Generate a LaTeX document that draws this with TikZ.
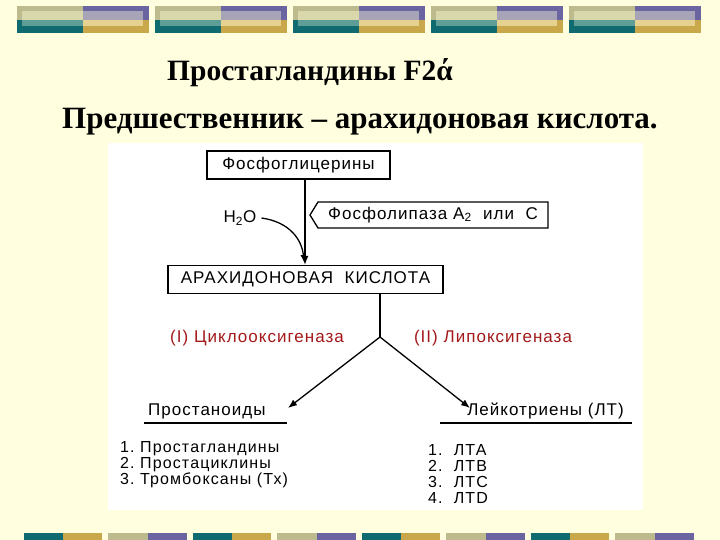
\documentclass[tikz,border=0pt]{standalone}
\usepackage{fontspec}
\setmainfont{Liberation Serif}
\newfontfamily\dsans[LetterSpace=6]{Liberation Sans}
\newfontfamily\dsanst[LetterSpace=7]{Liberation Sans}
\begin{document}
\begin{tikzpicture}[x=1pt,y=-1pt,
  txt/.style={font=\dsans\fontsize{17}{19}\selectfont,inner sep=0pt},
  lst/.style={font=\dsanst\fontsize{16}{16}\selectfont,inner sep=0pt},
  bx/.style={draw,line width=1.3pt,txt,minimum height=28pt},
  red/.style={txt,text=red!60!black!90},
  arr/.style={line width=1.3pt,-{Latex[length=9pt,width=7pt]}}]
\usetikzlibrary{arrows.meta}
\definecolor{bg}{HTML}{FFFFE0}
\definecolor{khaki}{HTML}{BDBB8E}
\definecolor{khl}{HTML}{D9D7AC}
\definecolor{pur}{HTML}{6A64A0}
\definecolor{purl}{HTML}{A8A4B8}
\definecolor{teal}{HTML}{0F6B70}
\definecolor{tealm}{HTML}{5E9E96}
\definecolor{gold}{HTML}{C8A84A}
\definecolor{goldl}{HTML}{E5D290}
\useasboundingbox (0,0) rectangle (720,540);
\fill[bg] (0,0) rectangle (720,540);
% top bars
\foreach \g in {0,1,2,3,4}{
  \begin{scope}[xshift=\g*138]
  \fill[khaki] (17,6) rectangle (83,20);
  \fill[khl] (22,11) rectangle (83,20);
  \fill[teal] (17,20) rectangle (83,33);
  \fill[tealm] (22,20) rectangle (83,26);
  \fill[pur] (83,6) rectangle (149,20);
  \fill[purl] (83,11) rectangle (143,20);
  \fill[gold] (83,20) rectangle (149,33);
  \fill[goldl] (83,20) rectangle (143,26);
  \end{scope}}
% bottom bars
\foreach \g in {0,1,2,3}{
  \begin{scope}[xshift=\g*169]
  \fill[teal] (24,533) rectangle (63,540);
  \fill[gold] (63,533) rectangle (102,540);
  \fill[khaki] (108,533) rectangle (148,540);
  \fill[pur] (148,533) rectangle (187,540);
  \end{scope}}
% titles
\node[font=\bfseries\fontsize{29.5}{32}\selectfont] (t1) at (310,73) {Простагландины F2ά};
\node[font=\bfseries\fontsize{31}{34}\selectfont] (t2) at (360,122) {Предшественник – арахидоновая кислота.};
% panel
\fill[white] (108,143) rectangle (643,510);
\node[bx,minimum width=183pt] (fg) at (298.5,165) {Фосфоглицерины};
\node[bx,minimum width=275pt] (ak) at (305.5,279.5) {АРАХИДОНОВАЯ\ \ КИСЛОТА};
\draw[line width=1.3pt] (310,215) -- (318,202) -- (548,202) -- (548,228) -- (318,228) -- cycle;
\node[txt] (fl) at (433,215) {Фосфолипаза А\textsubscript{2}\ \ или\ \ С};
\node[txt] (h2o) at (240,218) {Н\textsubscript{2}О};
\draw[arr] (fg.south -| 305,0) -- (ak.north -| 305,0);
\draw[line width=1.3pt,-{Latex[length=7pt,width=6pt]}] (h2o.east) ++(5,0) .. controls (290,222) and (302,240) .. (304,262);
\coordinate (bp) at (380,337);
\draw[line width=1.3pt] (ak.south -| bp) -- (bp);
\node[red] (c1) at (257,338) {(I) Циклооксигеназа};
\node[red] (c2) at (493,338) {(II) Липоксигеназа};
\node[txt,anchor=south west] (pr) at (148,419) {Простаноиды};
\node[txt,anchor=south east] (lt) at (624,419) {Лейкотриены (ЛТ)};
\draw[line width=1.3pt] (144,423) -- (287,423);
\draw[line width=1.3pt] (440,423) -- (632,423);
\draw[arr] (bp) -- (288,408);
\draw[arr] (bp) -- (470,408);
\node[lst,anchor=west,align=left] (l1) at (120,465) {1.\ Простагландины\\2.\ Простациклины\\3.\ Тромбоксаны (Тх)};
\node[lst,anchor=west,align=left] (l2) at (428,474) {1.\ \ ЛТА\\2.\ \ ЛТВ\\3.\ \ ЛТС\\4.\ \ ЛТD};
\end{tikzpicture}
\end{document}
